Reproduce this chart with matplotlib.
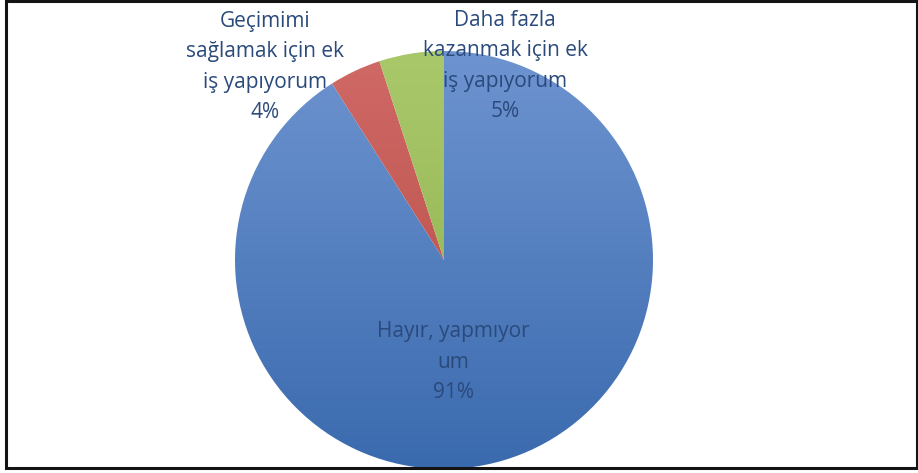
"""Pie chart: ek iş yapma durumu"""
import numpy as np
import matplotlib.pyplot as plt
from matplotlib.colors import to_rgb
from matplotlib.patches import Rectangle

# Slice data (clockwise from 12 o'clock)
labels = ['Hayır, yapmıyor\num', 'Geçimimi\nsağlamak için ek\niş yapıyorum',
          'Daha fazla\nkazanmak için ek\niş yapıyorum']
values = [91, 4, 5]
# (top colour, bottom colour) for the vertical gradient on each slice
shades = [('#6e94d0', '#3a6aae'), ('#d06a66', '#b24642'), ('#a9c86a', '#8caf4c')]

W, H = 918, 473
plt.rcParams['font.family'] = ['Open Sans', 'DejaVu Sans']

fig = plt.figure(figsize=(W / 100, H / 100), dpi=100)
ax = fig.add_axes([0, 0, 1, 1])

cx, cy, r = 444, H - 260, 209

wedges, _ = ax.pie(values, startangle=90, counterclock=False,
                   center=(cx, cy), radius=r, frame=True)

# fill each wedge with a top-to-bottom gradient
grad = np.linspace(0, 1, 256)[:, None]
for w, (top, bot) in zip(wedges, shades):
    c0, c1 = np.array(to_rgb(top)), np.array(to_rgb(bot))
    img = c0[None, None, :] * (1 - grad[..., None]) + c1[None, None, :] * grad[..., None]
    img = np.repeat(img, 2, axis=1)
    im = ax.imshow(img, extent=(cx - r, cx + r, cy - r, cy + r),
                   origin='upper', aspect='auto', zorder=1)
    im.set_clip_path(w)
    w.set_facecolor('none')
    w.set_edgecolor('none')

ax.set_xlim(0, W)
ax.set_ylim(0, H)
ax.set_aspect('equal')
ax.axis('off')

# data labels
label_pos = [(453, H - 362), (265, H - 67), (505, H - 66)]
txt_color = '#2a4a7c'
for (x, y), lab, v in zip(label_pos, labels, values):
    ax.text(x, y, f'{lab}\n{v}%', ha='center', va='center', fontsize=15,
            color=txt_color, linespacing=1.58, zorder=5)

# chart border
ax.add_patch(Rectangle((6, H - 468), 911, 467, fill=False, edgecolor='#141414',
                       linewidth=2.2, zorder=6, clip_on=False))

fig.savefig('out.png', dpi=100)
